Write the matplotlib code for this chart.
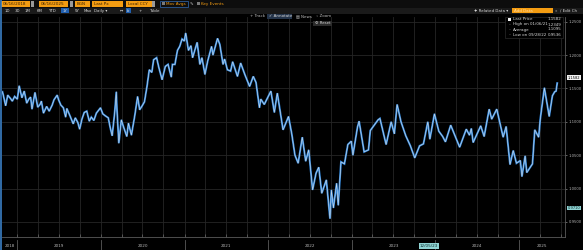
import numpy as np
import pandas as pd
import matplotlib
matplotlib.use("Agg")
import matplotlib.pyplot as plt
import matplotlib.dates as mdates
from matplotlib.patches import Rectangle
from matplotlib.transforms import blended_transform_factory

# EUR/USD last price
obs_dates = [
    "2018-10-29", "2018-11-01", "2018-11-12", "2018-11-21", "2018-12-03", "2018-12-11", "2018-12-21",
    "2019-01-02", "2019-01-10", "2019-01-22", "2019-02-01", "2019-02-12", "2019-02-21", "2019-03-01",
    "2019-03-07", "2019-03-20", "2019-04-01", "2019-04-11", "2019-04-17", "2019-04-26", "2019-05-10",
    "2019-05-21", "2019-06-03", "2019-06-11", "2019-06-25", "2019-07-01", "2019-07-11", "2019-07-22",
    "2019-08-01", "2019-08-06", "2019-08-21", "2019-09-03", "2019-09-12", "2019-09-23", "2019-10-01",
    "2019-10-11", "2019-10-21", "2019-11-01", "2019-11-12", "2019-11-21", "2019-12-02", "2019-12-13",
    "2019-12-31",
    "2020-01-10", "2020-01-21", "2020-02-03", "2020-02-11", "2020-02-20", "2020-03-02", "2020-03-09",
    "2020-03-12", "2020-03-20", "2020-03-31", "2020-04-09", "2020-04-24", "2020-05-01", "2020-05-14",
    "2020-05-29", "2020-06-10", "2020-06-19", "2020-06-30", "2020-07-10", "2020-07-21", "2020-07-31",
    "2020-08-11", "2020-08-19", "2020-09-01", "2020-09-11", "2020-09-25", "2020-10-09", "2020-10-21",
    "2020-11-04", "2020-11-09", "2020-11-20", "2020-12-01", "2020-12-11", "2020-12-21", "2020-12-31",
    "2021-01-06", "2021-01-18", "2021-01-29", "2021-02-05", "2021-02-25", "2021-03-09", "2021-03-18",
    "2021-03-31", "2021-04-12", "2021-04-29", "2021-05-05", "2021-05-25", "2021-06-04", "2021-06-18",
    "2021-06-25", "2021-07-07", "2021-07-21", "2021-07-30", "2021-08-20", "2021-09-03", "2021-09-21",
    "2021-10-12", "2021-10-28", "2021-11-09", "2021-11-24", "2021-11-30", "2021-12-15", "2021-12-31",
    "2022-01-13", "2022-01-28", "2022-02-10", "2022-02-24", "2022-03-07", "2022-03-31", "2022-04-14",
    "2022-04-28", "2022-05-12", "2022-05-30", "2022-06-14", "2022-06-27", "2022-07-14", "2022-07-29",
    "2022-08-10", "2022-08-23", "2022-09-12", "2022-09-28", "2022-10-04", "2022-10-13", "2022-10-27",
    "2022-11-03", "2022-11-15", "2022-11-30", "2022-12-15", "2022-12-30",
    "2023-01-06", "2023-01-26", "2023-02-02", "2023-02-24", "2023-03-15", "2023-03-23", "2023-04-26",
    "2023-05-04", "2023-05-31", "2023-06-22", "2023-07-06", "2023-07-18", "2023-08-04", "2023-08-25",
    "2023-09-14", "2023-10-03", "2023-10-24", "2023-11-10", "2023-11-29", "2023-12-08", "2023-12-28",
    "2024-01-16", "2024-02-02", "2024-02-14", "2024-03-08", "2024-03-28", "2024-04-16", "2024-05-15",
    "2024-05-29", "2024-06-06", "2024-06-14", "2024-07-17", "2024-08-01", "2024-08-23", "2024-09-03",
    "2024-09-25", "2024-10-23", "2024-11-05", "2024-11-22", "2024-12-06", "2024-12-20",
    "2025-01-06", "2025-01-13", "2025-01-27", "2025-02-03", "2025-02-28", "2025-03-10", "2025-03-27",
    "2025-04-03", "2025-04-21", "2025-05-12", "2025-05-26", "2025-06-05", "2025-06-11", "2025-06-16",
]
last_px = [
    1.145, 1.141, 1.124, 1.140, 1.135, 1.131, 1.138,
    1.134, 1.154, 1.136, 1.146, 1.128, 1.134, 1.137,
    1.119, 1.144, 1.122, 1.126, 1.131, 1.113, 1.123,
    1.116, 1.125, 1.133, 1.140, 1.133, 1.125, 1.121,
    1.107, 1.120, 1.108, 1.097, 1.106, 1.099, 1.089,
    1.104, 1.114, 1.116, 1.101, 1.107, 1.102, 1.113,
    1.121,
    1.112, 1.109, 1.106, 1.092, 1.079, 1.114, 1.145,
    1.118, 1.068, 1.103, 1.093, 1.078, 1.098, 1.080,
    1.110, 1.138, 1.118, 1.124, 1.130, 1.153, 1.178,
    1.174, 1.193, 1.196, 1.181, 1.163, 1.183, 1.186,
    1.167, 1.186, 1.186, 1.207, 1.213, 1.224, 1.221,
    1.233, 1.207, 1.214, 1.196, 1.219, 1.186, 1.196,
    1.171, 1.191, 1.213, 1.200, 1.225, 1.216, 1.186,
    1.194, 1.178, 1.176, 1.190, 1.168, 1.188, 1.171,
    1.153, 1.168, 1.159, 1.121, 1.134, 1.126, 1.137,
    1.146, 1.114, 1.143, 1.112, 1.088, 1.108, 1.082,
    1.050, 1.038, 1.077, 1.041, 1.058, 0.998, 1.023,
    1.032, 0.993, 1.013, 0.955, 0.998, 0.971, 1.008,
    0.975, 1.040, 1.037, 1.066, 1.071,
    1.050, 1.092, 1.101, 1.055, 1.058, 1.087, 1.103,
    1.105, 1.066, 1.100, 1.082, 1.126, 1.100, 1.079,
    1.064, 1.046, 1.064, 1.067, 1.100, 1.074, 1.112,
    1.086, 1.078, 1.070, 1.095, 1.078, 1.062, 1.089,
    1.080, 1.090, 1.069, 1.094, 1.078, 1.119, 1.104,
    1.119, 1.077, 1.093, 1.036, 1.057, 1.038,
    1.042, 1.018, 1.049, 1.024, 1.037, 1.088, 1.077,
    1.104, 1.151, 1.108, 1.139, 1.145, 1.146, 1.158,
]

legend_rows = ["Last Price", "High on 01/06/21", "Average", "Low on 09/28/22"]
legend_vals = ["1.1582", "1.2349", "1.1095", "0.9536"]
y_ticks = [0.95, 1.00, 1.05, 1.10, 1.15, 1.20, 1.25]
year_labels = ["2018", "2019", "2020", "2021", "2022", "2023", "2024", "2025"]

W, H = 583, 250
bg = "#000000"
grey = "#b4b4b4"

fig = plt.figure(figsize=(W / 100, H / 100), dpi=100, facecolor=bg)

# ---- price panel
ax = fig.add_axes([2 / W, 13 / H, 563 / W, 220 / H], facecolor=bg)
x = mdates.date2num(pd.to_datetime(obs_dates))
y = np.array(last_px)

ax.plot(x, y, color="#2f86dc", lw=1.4, solid_joinstyle="miter", zorder=3)
ax.plot(x, y, color="#e6e6e6", lw=0.45, alpha=0.85, zorder=4)

x0 = mdates.date2num(pd.Timestamp("2018-10-27"))
x1 = mdates.date2num(pd.Timestamp("2025-07-20"))
ax.set_xlim(x0, x1)
ax.set_ylim(0.9275, 1.257)

ax.xaxis.set_major_locator(mdates.MonthLocator(bymonth=[1, 4, 7, 10]))
ax.xaxis.set_major_formatter(plt.NullFormatter())
ax.tick_params(axis="x", direction="in", length=2, color="#6a6a6a", width=0.5)
ax.set_yticks(y_ticks)
ax.yaxis.set_major_formatter(plt.FuncFormatter(lambda v, p: f"{v:.4f}"))
ax.yaxis.tick_right()
ax.tick_params(axis="y", length=1.6, color="#8a8a8a", width=0.5, labelsize=2.7,
               labelcolor=grey, pad=0.8)
ax.grid(True, color="#262626", lw=0.6)
for s in ["top", "left"]:
    ax.spines[s].set_visible(False)
ax.spines["right"].set_color("#5a5a5a")
ax.spines["bottom"].set_color("#5a5a5a")
ax.spines["right"].set_linewidth(0.6)
ax.spines["bottom"].set_linewidth(0.6)

# year bands under the axis
tr = blended_transform_factory(ax.transData, ax.transAxes)
bounds = [x0] + [mdates.date2num(pd.Timestamp(f"{yr}-01-01")) for yr in range(2019, 2026)] + [x1]
for b in bounds[1:-1]:
    ax.plot([b, b], [-0.065, -0.015], transform=tr, color="#5a5a5a", lw=0.6, clip_on=False)
for i, lab in enumerate(year_labels):
    ax.text((bounds[i] + bounds[i + 1]) / 2, -0.04, lab, transform=tr, ha="center",
            va="center", fontsize=3.0, color=grey)

# crosshair date tag
ax.text(mdates.date2num(pd.Timestamp("2023-12-05")), -0.04, "12/05/23", transform=tr,
        ha="center", va="center", fontsize=3.0, color="#0a2a2a",
        bbox=dict(boxstyle="square,pad=0.2", fc="#8fd3d3", ec="none"))

# last price tag and crosshair value tag on the right axis
tr_r = blended_transform_factory(ax.transAxes, ax.transData)
ax.text(1.005, last_px[-1] + 0.008, legend_vals[0], transform=tr_r, ha="left", va="center",
        fontsize=2.6, color="#000000",
        bbox=dict(boxstyle="square,pad=0.12", fc="#f0f0f0", ec="none"))
ax.text(1.005, 0.971, "0.9710", transform=tr_r, ha="left", va="center",
        fontsize=2.6, color="#0a2a2a",
        bbox=dict(boxstyle="square,pad=0.12", fc="#8fd3d3", ec="none"))

# ---- toolbar chrome in pixel coordinates
ov = fig.add_axes([0, 0, 1, 1], facecolor="none")
ov.set_xlim(0, W)
ov.set_ylim(H, 0)
ov.axis("off")
ov.add_patch(Rectangle((0, 0), W, 7.5, fc="#0d0d0d", ec="none"))
ov.add_patch(Rectangle((0, 7.5), W, 6.5, fc="#1a1a1a", ec="none"))
ov.plot([0.7, 0.7], [0, H], color="#3a7fc4", lw=1.2)

orange = "#f39c12"
for bx, bw, txt in [(1, 29, "06/16/2018"), (39, 29, "06/16/2025"), (75, 15, "BGN"),
                    (92, 31, "Last Px"), (126, 29, "Local CCY")]:
    ov.add_patch(Rectangle((bx, 0.8), bw, 5.8, fc=orange, ec="none"))
    ov.text(bx + 2, 3.7, txt, fontsize=3.0, color="#3a2000", va="center", ha="left")
for bx in [30.5, 69.5, 151.5]:
    ov.add_patch(Rectangle((bx, 0.8), 3, 5.8, fc="#9a9a9a", ec="none"))
ov.add_patch(Rectangle((160, 0.8), 27.5, 5.8, fc="#0d0d0d", ec="#2d5d9a", lw=0.6))
ov.add_patch(Rectangle((162, 2.3), 2.6, 2.8, fc="#7a7a7a", ec="none"))
ov.text(166, 3.7, "Mov Avgs", fontsize=3.0, color=orange, va="center")
ov.text(190, 3.7, "\u270e", fontsize=3.2, color="#cfcfcf", va="center")
ov.add_patch(Rectangle((197, 2.3), 2.6, 2.8, fc="#7a7a7a", ec="none"))
ov.text(201, 3.7, "Key Events", fontsize=3.0, color=orange, va="center")

for bx, txt in [(7, "1D"), (17, "3D"), (28, "1M"), (40, "6M"), (52, "YTD"), (65, "1Y"),
                (77, "5Y"), (88, "Max"), (101, "Daily \u25be"), (122, "\u2194"), (140, "+"),
                (154, "Table")]:
    if txt == "1Y":
        ov.add_patch(Rectangle((61, 7.8), 7.5, 5.6, fc="#1f5fb0", ec="none"))
    ov.text(bx, 10.6, txt, fontsize=2.9, color="#d8d8d8", va="center", ha="center")
ov.add_patch(Rectangle((126, 7.8), 5, 5.6, fc="#1f5fb0", ec="none"))
ov.text(128.5, 10.6, "fx", fontsize=2.6, color="#d8d8d8", va="center", ha="center")

ov.text(474, 10.3, "\u2726 Related Data \u25be", fontsize=2.9, color="#d8d8d8", va="center")
ov.add_patch(Rectangle((512, 7.8), 41, 5.6, fc=orange, ec="none"))
ov.text(514, 10.6, "Add Data", fontsize=2.9, color="#ffd9a0", va="center")
ov.text(555, 10.6, "\u00ab  \u2215 Edit Ch", fontsize=2.9, color="#d8d8d8", va="center")

ov.text(250, 16.2, "+ Track", fontsize=2.9, color="#bdbdbd", va="center")
ov.add_patch(Rectangle((267, 14), 25, 4.6, fc="#24344a", ec="none"))
ov.text(269, 16.2, "\u2713 Annotate", fontsize=2.9, color="#d8d8d8", va="center")
ov.text(296, 16.2, "\u25a4 News", fontsize=2.9, color="#bdbdbd", va="center")
ov.text(316, 16.2, "\u25e6 Zoom", fontsize=2.9, color="#bdbdbd", va="center")
ov.add_patch(Rectangle((313, 20.5), 19, 5, fc="#2b2b2b", ec="none"))
ov.text(315, 23, "\u2699 Reset", fontsize=2.8, color="#d8d8d8", va="center")

# legend box
ov.add_patch(Rectangle((505, 16.5), 58, 21, fc="#000000", ec="#2a2a2a", lw=0.5))
for i, (lab, val) in enumerate(zip(legend_rows, legend_vals)):
    yy = 19.5 + 5 * i
    if i == 0:
        ov.add_patch(Rectangle((508, yy - 1.6), 3, 3.2, fc="#f2f2f2", ec="none"))
    else:
        ov.text(509.5, yy, "\u2013", fontsize=2.8, color="#9a9a9a", va="center", ha="center")
    ov.text(513, yy, lab, fontsize=2.9, color="#d8d8d8", va="center")
    ov.text(561, yy, val, fontsize=2.9, color="#d8d8d8", va="center", ha="right")

fig.savefig("out.png", dpi=100, facecolor=bg)
